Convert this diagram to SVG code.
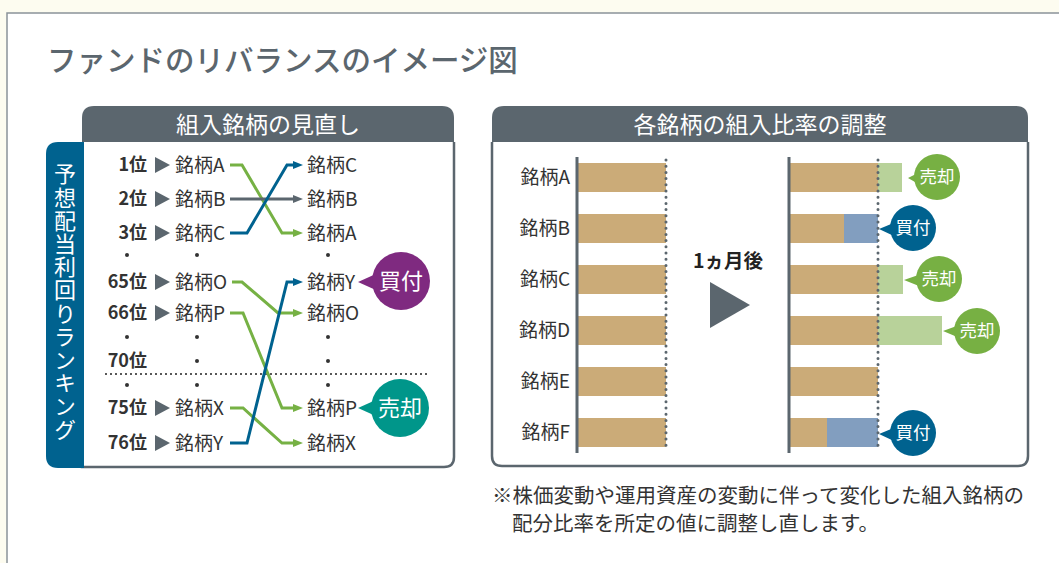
<svg xmlns="http://www.w3.org/2000/svg" width="1059" height="563" viewBox="0 0 1059 563">
<style>
text{font-family:"Noto Sans CJK JP","Noto Sans",sans-serif}
.rank{font-size:18px;font-weight:bold;fill:#333;text-anchor:end}
.nm{font-size:19px;fill:#333}
.nmr{font-size:19px;fill:#333;text-anchor:end}
.hd{font-size:23px;fill:#fff;text-anchor:middle}
.bw{fill:#fff;text-anchor:middle}
.ln{fill:none;stroke-width:3}
.g{stroke:#76b144}.b{stroke:#00628f}.k{stroke:#5b666e}
.dot{fill:#333}
.tan{fill:#cbab78}.lg{fill:#b8d29a}.lb{fill:#829ebf}
.vdot{stroke:#5b666e;stroke-width:3;stroke-linecap:round;stroke-dasharray:0 6.2;fill:none}
.axis{stroke:#5b666e;stroke-width:3}
</style>
<defs>
<marker id="ag" markerUnits="userSpaceOnUse" markerWidth="10" markerHeight="8" refX="5" refY="4" orient="auto"><path d="M0,0L10,4L0,8z" fill="#76b144"/></marker>
<marker id="ab" markerUnits="userSpaceOnUse" markerWidth="10" markerHeight="8" refX="5" refY="4" orient="auto"><path d="M0,0L10,4L0,8z" fill="#00628f"/></marker>
<marker id="ak" markerUnits="userSpaceOnUse" markerWidth="10" markerHeight="8" refX="5" refY="4" orient="auto"><path d="M0,0L10,4L0,8z" fill="#5b666e"/></marker>
</defs>
<rect width="1059" height="563" fill="#fdfcf0"/>
<rect x="7" y="13" width="1060" height="560" fill="#fff" stroke="#8b9399" stroke-width="1.5"/>
<text x="47" y="71" font-size="29.5" font-weight="500" fill="#5b666e">ファンドのリバランスのイメージ図</text>

<g id="left-panel">
<path d="M82,142V467H444Q454,467 454,457V142" fill="#fff" stroke="#5b666e" stroke-width="2.5"/>
<path d="M82,142V118Q82,106 94,106H442Q454,106 454,118V142Z" fill="#5b666e"/>
<text class="hd" x="268" y="133">組入銘柄の見直し</text>
<path d="M84,142V468H58Q46,468 46,456V154Q46,142 58,142Z" fill="#00628f"/>
<text x="65" y="163" font-size="22" fill="#fff" writing-mode="vertical-rl" letter-spacing="1.2">予想配当利回りランキング</text>
</g>

<g id="ranks">
<text class="rank" x="147" y="171">1位</text>
<text class="rank" x="147" y="205">2位</text>
<text class="rank" x="147" y="239">3位</text>
<text class="rank" x="147" y="288">65位</text>
<text class="rank" x="147" y="319">66位</text>
<text class="rank" x="147" y="367">70位</text>
<text class="rank" x="147" y="414">75位</text>
<text class="rank" x="147" y="449">76位</text>
<g fill="#5b666e">
<path d="M155,157L170,165L155,173z"/>
<path d="M155,191L170,199L155,207z"/>
<path d="M155,225L170,233L155,241z"/>
<path d="M155,274L170,282L155,290z"/>
<path d="M155,305L170,313L155,321z"/>
<path d="M155,400L170,408L155,416z"/>
<path d="M155,435L170,443L155,451z"/>
</g>
</g>

<g id="names-left">
<text class="nm" x="175" y="172">銘柄A</text>
<text class="nm" x="175" y="206">銘柄B</text>
<text class="nm" x="175" y="240">銘柄C</text>
<text class="nm" x="175" y="289">銘柄O</text>
<text class="nm" x="175" y="320">銘柄P</text>
<text class="nm" x="175" y="415">銘柄X</text>
<text class="nm" x="175" y="450">銘柄Y</text>
</g>

<g id="names-right">
<text class="nm" x="307" y="172">銘柄C</text>
<text class="nm" x="307" y="206">銘柄B</text>
<text class="nm" x="307" y="240">銘柄A</text>
<text class="nm" x="307" y="289">銘柄Y</text>
<text class="nm" x="307" y="320">銘柄O</text>
<text class="nm" x="307" y="415">銘柄P</text>
<text class="nm" x="307" y="450">銘柄X</text>
</g>

<g id="ellipsis">
<circle class="dot" cx="127" cy="255" r="2"/><circle class="dot" cx="197" cy="255" r="2"/><circle class="dot" cx="328" cy="255" r="2"/>
<circle class="dot" cx="127" cy="337" r="2"/><circle class="dot" cx="197" cy="337" r="2"/><circle class="dot" cx="328" cy="337" r="2"/>
<circle class="dot" cx="197" cy="361" r="2"/><circle class="dot" cx="328" cy="361" r="2"/>
<circle class="dot" cx="127" cy="385" r="2"/><circle class="dot" cx="197" cy="385" r="2"/><circle class="dot" cx="328" cy="385" r="2"/>
<line x1="106" y1="374" x2="427" y2="374" stroke="#333" stroke-width="2.2" stroke-linecap="round" stroke-dasharray="0 5"/>
</g>

<g id="connectors">
<path class="ln g" d="M230,165H242L282,233H298" marker-end="url(#ag)"/>
<path class="ln k" d="M230,199H298" marker-end="url(#ak)"/>
<path class="ln b" d="M230,233H247L287,165H298" marker-end="url(#ab)"/>
<path class="ln g" d="M232,282H242L278,313H298" marker-end="url(#ag)"/>
<path class="ln g" d="M230,313H243L282,408H298" marker-end="url(#ag)"/>
<path class="ln g" d="M230,408H243L282,443H298" marker-end="url(#ag)"/>
<path class="ln b" d="M230,443H247L287,282H298" marker-end="url(#ab)"/>
</g>

<g id="bubble-buy-left">
<path d="M358,282L378,273L378,291z" fill="#7f2a80"/>
<circle cx="401" cy="281" r="29" fill="#7f2a80"/>
<text class="bw" x="401" y="289" font-size="22">買付</text>
</g>
<g id="bubble-sell-left">
<path d="M358,408L378,399L378,417z" fill="#00968a"/>
<circle cx="400" cy="408" r="29" fill="#00968a"/>
<text class="bw" x="400" y="416" font-size="22">売却</text>
</g>

<g id="right-panel">
<path d="M492,142V456Q492,466 502,466H1018Q1028,466 1028,456V142" fill="#fff" stroke="#5b666e" stroke-width="2.5"/>
<path d="M492,142V118Q492,106 504,106H1016Q1028,106 1028,118V142Z" fill="#5b666e"/>
<text class="hd" x="760" y="133">各銘柄の組入比率の調整</text>
</g>

<g id="bars-before">
<text class="nmr" x="570" y="184">銘柄A</text>
<text class="nmr" x="570" y="235">銘柄B</text>
<text class="nmr" x="570" y="286">銘柄C</text>
<text class="nmr" x="570" y="337">銘柄D</text>
<text class="nmr" x="570" y="388">銘柄E</text>
<text class="nmr" x="570" y="439">銘柄F</text>
<rect class="tan" x="578" y="163" width="88" height="29"/>
<rect class="tan" x="578" y="214" width="88" height="29"/>
<rect class="tan" x="578" y="265" width="88" height="29"/>
<rect class="tan" x="578" y="316" width="88" height="29"/>
<rect class="tan" x="578" y="367" width="88" height="29"/>
<rect class="tan" x="578" y="418" width="88" height="29"/>
<line class="axis" x1="577" y1="157" x2="577" y2="453"/>
<line class="vdot" x1="666" y1="160" x2="666" y2="451"/>
</g>

<g id="arrow-month">
<text x="728" y="268" font-size="19.5" font-weight="bold" fill="#222" text-anchor="middle">1ヵ月後</text>
<path d="M710,282L750,305L710,328z" fill="#5b666e"/>
</g>

<g id="bars-after">
<rect class="tan" x="790" y="163" width="88" height="29"/><rect class="lg" x="878" y="163" width="24" height="29"/>
<rect class="tan" x="790" y="214" width="54" height="29"/><rect class="lb" x="844" y="214" width="34" height="29"/>
<rect class="tan" x="790" y="265" width="88" height="29"/><rect class="lg" x="878" y="265" width="25" height="29"/>
<rect class="tan" x="790" y="316" width="88" height="29"/><rect class="lg" x="878" y="316" width="64" height="29"/>
<rect class="tan" x="790" y="367" width="88" height="29"/>
<rect class="tan" x="790" y="418" width="37" height="29"/><rect class="lb" x="827" y="418" width="51" height="29"/>
<line class="axis" x1="789" y1="157" x2="789" y2="453"/>
<line class="vdot" x1="878" y1="160" x2="878" y2="451"/>
</g>

<g id="bubbles-right" font-size="17.5">
<g id="sell-a"><path d="M908,178L922,171L922,186z" fill="#77b043"/><circle cx="937" cy="177" r="23" fill="#77b043"/><text class="bw" x="937" y="183">売却</text></g>
<g id="buy-b"><path d="M879,229L896,222L896,237z" fill="#00628f"/><circle cx="913" cy="228" r="23" fill="#00628f"/><text class="bw" x="913" y="234">買付</text></g>
<g id="sell-c"><path d="M904,280L924,273L924,288z" fill="#77b043"/><circle cx="939" cy="279" r="23" fill="#77b043"/><text class="bw" x="939" y="285">売却</text></g>
<g id="sell-d"><path d="M943,331L962,324L962,339z" fill="#77b043"/><circle cx="977" cy="331" r="23" fill="#77b043"/><text class="bw" x="977" y="337">売却</text></g>
<g id="buy-f"><path d="M879,434L896,427L896,442z" fill="#00628f"/><circle cx="913" cy="433" r="23" fill="#00628f"/><text class="bw" x="913" y="439">買付</text></g>
</g>

<g id="footnote" font-size="20.5" fill="#333">
<text x="492" y="503">※株価変動や運用資産の変動に伴って変化した組入銘柄の</text>
<text x="512" y="531">配分比率を所定の値に調整し直します。</text>
</g>
</svg>
